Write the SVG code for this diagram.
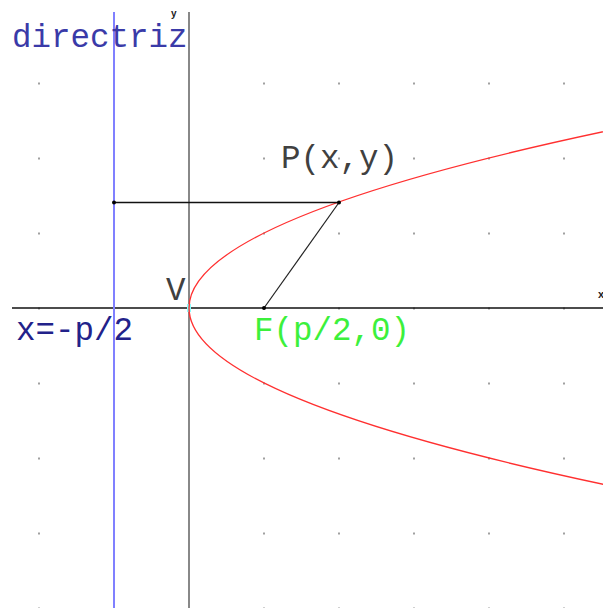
<svg xmlns="http://www.w3.org/2000/svg" width="603" height="608" viewBox="0 0 603 608">
<defs>
<style>
.lbl{font-family:"Liberation Mono","Courier New",monospace;font-size:32.5px;}
.dot{fill:#a0a0a0;}
.pt{fill:#000;}
</style>
<pattern id="grid" x="0" y="0" width="75" height="75" patternUnits="userSpaceOnUse" patternTransform="translate(38 7.5)">
<rect x="0" y="0" width="2" height="2" class="dot"/>
</pattern>
</defs>
<rect width="603" height="608" fill="#fff"/>
<rect x="20" y="60" width="583" height="548" fill="url(#grid)"/>
<g id="axes">
<line x1="189" y1="12" x2="189" y2="608" stroke="#888" stroke-width="2"/>
<line x1="12" y1="308" x2="603" y2="308" stroke="#111" stroke-width="1.5"/>
<rect x="187" y="304" width="4" height="8" fill="#8ff"/>
<text x="171" y="17" font-family="Liberation Sans,Arial,sans-serif" font-size="10" font-weight="bold" fill="#222">y</text>
<text x="598" y="298" font-family="Liberation Sans,Arial,sans-serif" font-size="11" font-weight="bold" fill="#222">x</text>
</g>
<g id="directriz">
<line x1="114" y1="12" x2="114" y2="608" stroke="#8080ff" stroke-width="2"/>
<text x="12" y="47" class="lbl" fill="#3a3aa8">directriz</text>
<text x="16" y="340" class="lbl" fill="#22228a">x=-p/2</text>
</g>
<g id="parabola">
<path d="M621,128 Q-243,308 621,488" fill="none" stroke="#ff3030" stroke-width="1.4"/>
</g>
<g id="connectors">
<line x1="114" y1="202.5" x2="339" y2="202.5" stroke="#111" stroke-width="1.3"/>
<line x1="264" y1="308" x2="339" y2="202.5" stroke="#222" stroke-width="1.2"/>
</g>
<g id="P">
<circle cx="339" cy="202.5" r="2" class="pt"/>
<text x="281" y="168" class="lbl" fill="#404040">P(x,y)</text>
</g>
<g id="Q">
<circle cx="114" cy="202.5" r="2" class="pt"/>
</g>
<g id="F">
<circle cx="264" cy="308" r="2" class="pt"/>
<text x="254" y="340" class="lbl" fill="#3cf03c">F(p/2,0)</text>
</g>
<g id="V">
<text x="166" y="300" class="lbl" fill="#404040">V</text>
</g>
</svg>
